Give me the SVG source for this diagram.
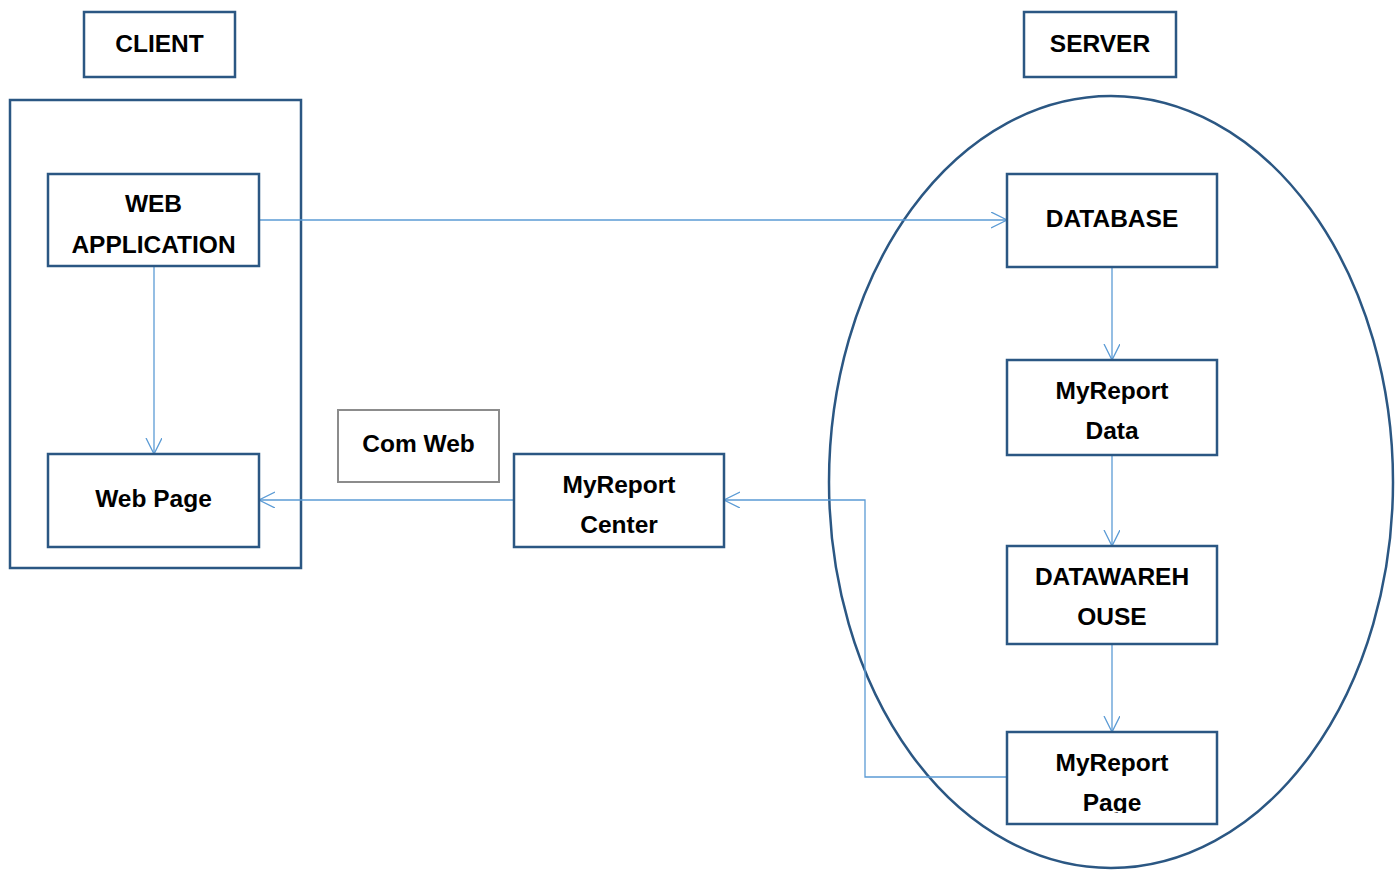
<svg xmlns="http://www.w3.org/2000/svg" width="1397" height="870" viewBox="0 0 1397 870">
<style>
.box{fill:#fff;stroke:#2b5783;stroke-width:2.5}
.gray{fill:#fff;stroke:#8c8c8c;stroke-width:2}
.t{font-family:"Liberation Sans",Arial,sans-serif;font-weight:bold;font-size:24.5px;fill:#000;text-anchor:middle}
.c{fill:none;stroke:#5b9bd5;stroke-width:1.3}
</style>
<defs>
<marker id="ah" markerWidth="18" markerHeight="18" refX="16" refY="8" orient="auto" markerUnits="userSpaceOnUse">
<path d="M0,0 L16,8 L0,16" fill="none" stroke="#5b9bd5" stroke-width="1.3"/>
</marker>
<clipPath id="clipPage"><rect x="1007" y="732" width="211" height="81"/></clipPath>
</defs>
<rect width="1397" height="870" fill="#fff"/>
<ellipse id="server-area" cx="1111" cy="482" rx="282" ry="386" fill="none" stroke="#2b5783" stroke-width="2.5"/>
<rect id="client-area" x="10" y="100" width="291" height="468" fill="none" stroke="#2b5783" stroke-width="2.5"/>
<g id="connectors">
<line class="c" x1="259" y1="220" x2="1007" y2="220" marker-end="url(#ah)"/>
<line class="c" x1="154" y1="266" x2="154" y2="454" marker-end="url(#ah)"/>
<line class="c" x1="514" y1="500" x2="259" y2="500" marker-end="url(#ah)"/>
<polyline class="c" points="1007,777 865,777 865,500 724,500" marker-end="url(#ah)"/>
<line class="c" x1="1112" y1="267" x2="1112" y2="360" marker-end="url(#ah)"/>
<line class="c" x1="1112" y1="455" x2="1112" y2="546" marker-end="url(#ah)"/>
<line class="c" x1="1112" y1="644" x2="1112" y2="732" marker-end="url(#ah)"/>
</g>
<g id="client"><rect class="box" x="84" y="12" width="151" height="65"/><text class="t" x="159.5" y="52">CLIENT</text></g>
<g id="server"><rect class="box" x="1024" y="12" width="152" height="65"/><text class="t" x="1100" y="52">SERVER</text></g>
<g id="web-application"><rect class="box" x="48" y="174" width="211" height="92"/><text class="t" x="153.5" y="212">WEB</text><text class="t" x="153.5" y="253">APPLICATION</text></g>
<g id="web-page"><rect class="box" x="48" y="454" width="211" height="93"/><text class="t" x="153.5" y="507">Web Page</text></g>
<g id="com-web"><rect class="gray" x="338" y="410" width="161" height="72"/><text class="t" x="418.5" y="452">Com Web</text></g>
<g id="myreport-center"><rect class="box" x="514" y="454" width="210" height="93"/><text class="t" x="619" y="493">MyReport</text><text class="t" x="619" y="533">Center</text></g>
<g id="database"><rect class="box" x="1007" y="174" width="210" height="93"/><text class="t" x="1112" y="227">DATABASE</text></g>
<g id="myreport-data"><rect class="box" x="1007" y="360" width="210" height="95"/><text class="t" x="1112" y="399">MyReport</text><text class="t" x="1112" y="439">Data</text></g>
<g id="datawarehouse"><rect class="box" x="1007" y="546" width="210" height="98"/><text class="t" x="1112" y="585">DATAWAREH</text><text class="t" x="1112" y="625">OUSE</text></g>
<g id="myreport-page"><rect class="box" x="1007" y="732" width="210" height="92"/><text class="t" x="1112" y="771">MyReport</text><text class="t" x="1112" y="811" clip-path="url(#clipPage)">Page</text></g>
</svg>
